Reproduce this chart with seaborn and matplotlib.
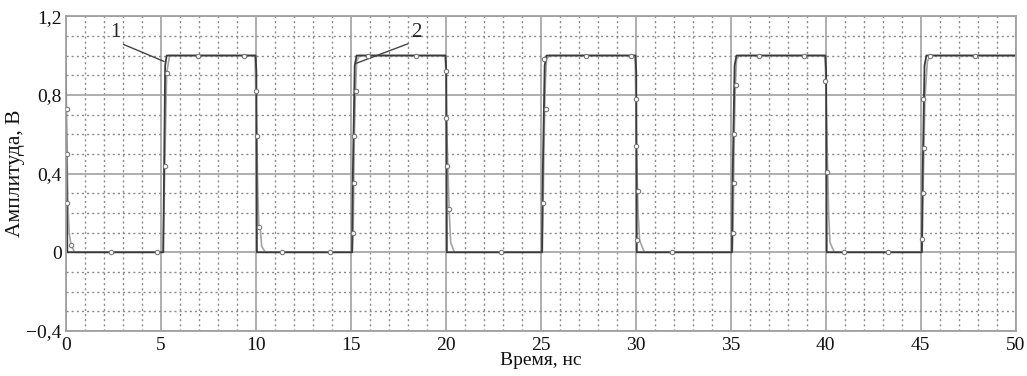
import numpy as np
import pandas as pd
import matplotlib
matplotlib.use("Agg")
import matplotlib.pyplot as plt
from matplotlib.ticker import MultipleLocator
import seaborn as sns

# ---- данные ----
# кривая 1: почти идеальные фронты
t1 = [0.0, 0.02, 0.07, 5.12, 5.16, 5.22, 5.3,
      9.98, 10.02, 10.05, 15.06, 15.1, 15.2, 15.3,
      19.98, 20.02, 20.05, 25.06, 25.1, 25.2, 25.3,
      29.98, 30.02, 30.05, 35.06, 35.1, 35.2, 35.3,
      39.98, 40.02, 40.05, 45.06, 45.1, 45.2, 45.3, 50.0]
v1 = [0.96, 0.5, 0.0, 0.0, 0.4, 0.95, 1.0,
      1.0, 0.92, 0.0, 0.0, 0.4, 0.95, 1.0,
      1.0, 0.92, 0.0, 0.0, 0.4, 0.95, 1.0,
      1.0, 0.92, 0.0, 0.0, 0.4, 0.95, 1.0,
      1.0, 0.92, 0.0, 0.0, 0.4, 0.95, 1.0, 1.0]

# кривая 2: затянутые фронты
t2 = [0.0, 0.05, 0.1, 0.16, 0.26, 0.45,
      5.1, 5.15, 5.2, 5.25, 5.3, 5.45,
      9.95, 9.99, 10.04, 10.1, 10.15, 10.22, 10.3, 10.5,
      15.08, 15.12, 15.15, 15.18, 15.24, 15.3, 15.45,
      19.96, 20.0, 20.03, 20.1, 20.17, 20.25, 20.45,
      25.08, 25.12, 25.16, 25.2, 25.25, 25.3, 25.45,
      29.96, 30.0, 30.03, 30.09, 30.12, 30.2, 30.45,
      35.08, 35.12, 35.15, 35.18, 35.24, 35.3, 35.45,
      39.96, 40.0, 40.06, 40.1, 40.15, 40.22, 40.45,
      45.06, 45.09, 45.12, 45.17, 45.22, 45.35, 45.5,
      50.0]
v2 = [0.75, 0.5, 0.25, 0.1, 0.04, 0.0,
      0.0, 0.2, 0.44, 0.7, 0.91, 1.0,
      1.0, 0.82, 0.6, 0.3, 0.14, 0.13, 0.03, 0.0,
      0.0, 0.1, 0.35, 0.6, 0.82, 0.97, 1.0,
      1.0, 0.92, 0.68, 0.44, 0.22, 0.05, 0.0,
      0.0, 0.25, 0.5, 0.73, 0.9, 0.98, 1.0,
      1.0, 0.78, 0.54, 0.31, 0.2, 0.06, 0.0,
      0.0, 0.1, 0.35, 0.6, 0.85, 0.98, 1.0,
      1.0, 0.87, 0.6, 0.41, 0.2, 0.05, 0.0,
      0.0, 0.07, 0.3, 0.53, 0.78, 0.97, 1.0,
      1.0]

# маркеры на кривой 2
mt = [0.03, 0.04, 0.06, 0.26, 2.37, 4.8, 5.2, 5.3, 6.93, 9.37,
      9.98, 10.04, 10.15, 11.35, 13.9, 15.12, 15.16, 15.17, 15.26, 15.9,
      18.42, 20.0, 20.03, 20.05, 20.17, 22.9, 25.12, 25.25, 25.17, 27.4,
      29.77, 30.0, 30.02, 30.09, 30.05, 31.93, 35.12, 35.15, 35.18, 35.26,
      36.5, 38.84, 39.98, 40.09, 40.96, 43.28, 45.09, 45.1, 45.17, 45.12,
      45.47, 47.84]
mv = [0.73, 0.5, 0.25, 0.035, 0.0, 0.0, 0.44, 0.91, 1.0, 1.0,
      0.82, 0.59, 0.13, 0.0, 0.0, 0.1, 0.35, 0.59, 0.82, 1.0,
      1.0, 0.92, 0.68, 0.44, 0.22, 0.0, 0.25, 0.73, 0.98, 1.0,
      1.0, 0.78, 0.54, 0.31, 0.06, 0.0, 0.1, 0.35, 0.6, 0.85,
      1.0, 1.0, 0.87, 0.41, 0.0, 0.0, 0.07, 0.30, 0.53, 0.78,
      1.0, 1.0]

yticks = [-0.4, 0.0, 0.4, 0.8, 1.2]
ytick_labels = ["\u22120,4", "0", "0,4", "0,8", "1,2"]
xticks = [0, 5, 10, 15, 20, 25, 30, 35, 40, 45, 50]

df1 = pd.DataFrame({"t": t1, "v": v1})
df2 = pd.DataFrame({"t": t2, "v": v2})
dfm = pd.DataFrame({"t": mt, "v": mv})

sns.set_style("white")
plt.rcParams["font.family"] = ["Liberation Serif", "DejaVu Serif"]

fig = plt.figure(figsize=(10.27, 3.76), dpi=100)
ax = fig.add_axes([0.0643, 0.1197, 0.9247, 0.8373])

# сетка
ax.xaxis.set_major_locator(MultipleLocator(5))
ax.xaxis.set_minor_locator(MultipleLocator(1))
ax.yaxis.set_major_locator(MultipleLocator(0.4))
ax.yaxis.set_minor_locator(MultipleLocator(0.1))
ax.grid(True, which="major", color="#a8a8a8", linewidth=1.3, linestyle="-")
ax.grid(True, which="minor", color="#8a8a8a", linewidth=1.0, linestyle=(0, (1.5, 2.2)))
ax.set_axisbelow(True)

sns.lineplot(data=df2, x="t", y="v", ax=ax, color="#a4a4a4", linewidth=1.2,
             estimator=None, sort=False)
sns.lineplot(data=df1, x="t", y="v", ax=ax, color="#3a3a3a", linewidth=1.3,
             estimator=None, sort=False)
sns.scatterplot(data=dfm, x="t", y="v", ax=ax, marker="o", s=10,
                facecolor="white", edgecolor="#7a7a7a", linewidth=0.8, zorder=5)

# подписи кривых
ax.annotate("1", xy=(5.16, 0.97), xytext=(2.58, 1.07), fontsize=15,
            ha="center", va="bottom",
            arrowprops=dict(arrowstyle="-", color="#444444", lw=1.0,
                            shrinkA=0, shrinkB=0, relpos=(0.7, 0.0)))
ax.annotate("2", xy=(15.26, 0.96), xytext=(18.45, 1.07), fontsize=15,
            ha="center", va="bottom",
            arrowprops=dict(arrowstyle="-", color="#444444", lw=1.0,
                            shrinkA=0, shrinkB=0, relpos=(0.2, 0.0)))

ax.set_xlim(0, 50)
ax.set_ylim(-0.4, 1.2)
ax.set_xticks(xticks)
ax.set_xticklabels([str(x) for x in xticks])
ax.set_yticks(yticks)
ax.set_yticklabels(ytick_labels)
ax.tick_params(which="both", length=0, labelsize=14, colors="#111111")
ax.tick_params(axis="x", pad=4)
ax.tick_params(axis="y", pad=3)
ax.set_xlabel("Время, нс", fontsize=14, labelpad=-1, color="#111111")
ax.set_ylabel("Амплитуда, В", fontsize=15.5, labelpad=1, color="#111111")

for s in ax.spines.values():
    s.set_color("#a0a0a0")
    s.set_linewidth(1.3)

fig.savefig("out.png", dpi=100)
